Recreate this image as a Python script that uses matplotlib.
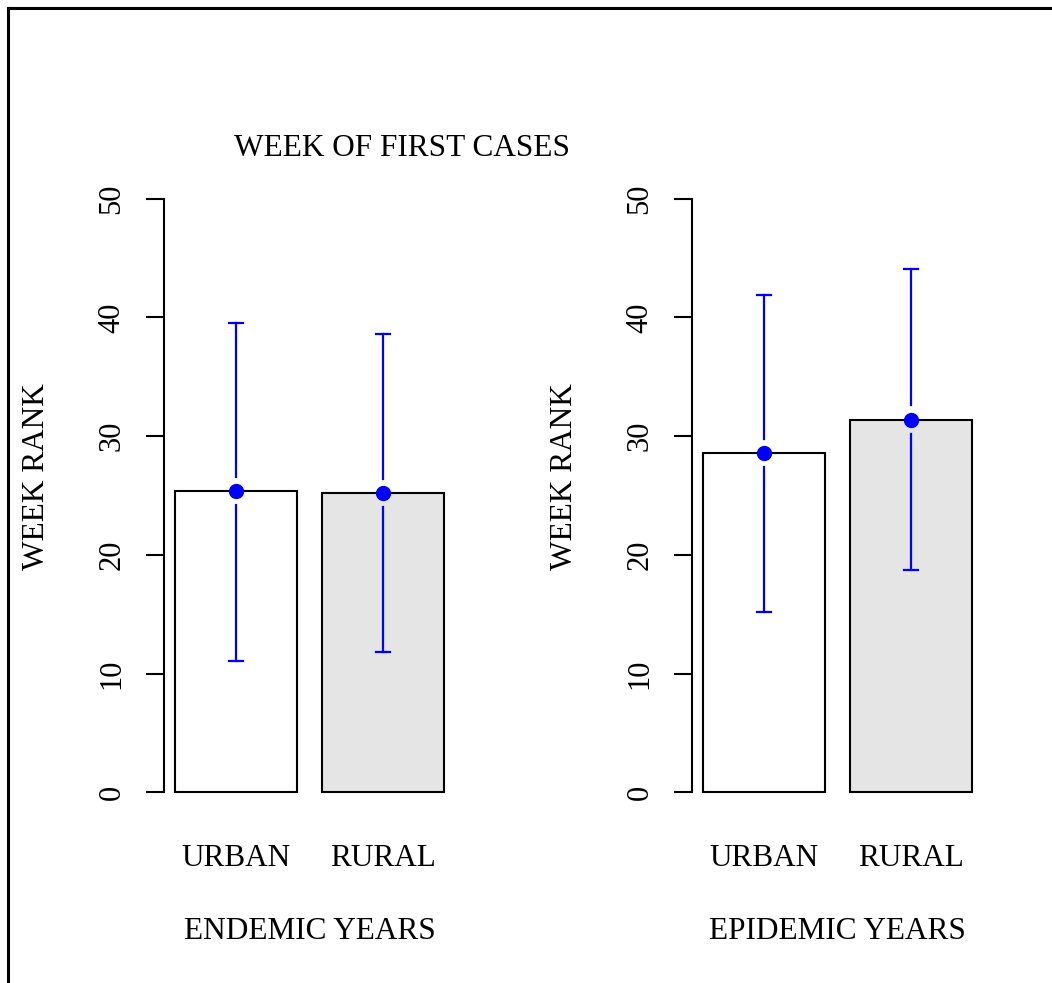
import numpy as np
import matplotlib
matplotlib.use("Agg")
import matplotlib.pyplot as plt
from matplotlib.lines import Line2D

plt.rcParams['font.family'] = ['Liberation Serif', 'DejaVu Serif']

# data
categories = ['URBAN', 'RURAL']
panels = ['ENDEMIC YEARS', 'EPIDEMIC YEARS']
means = [[25.4, 25.2], [28.6, 31.4]]
upper = [[39.5, 38.6], [41.9, 44.1]]
lower = [[11.1, 11.8], [15.2, 18.7]]
yticks = [0, 10, 20, 30, 40, 50]
bar_colors = ['white', '#E5E5E5']

fig = plt.figure(figsize=(10.52, 9.83), dpi=100)

# R barplot geometry: width 1, space 0.2
centers = np.array([0.7, 1.9])
ax_lefts = [164 / 1052, 692 / 1052]
gap = 1.2  # gap between point and error bar line, data units
fs = 22.5

for i in range(2):
    ax = fig.add_axes([ax_lefts[i], 0.1699, 0.2766, 0.652])
    ax.bar(centers, means[i], width=1.0, color=bar_colors,
           edgecolor='black', linewidth=1.5, zorder=1)
    for j in range(2):
        m = means[i][j]
        ax.plot([centers[j], centers[j]], [m + gap, upper[i][j]],
                color='blue', lw=1.6, zorder=3)
        ax.plot([centers[j], centers[j]], [lower[i][j], m - gap],
                color='blue', lw=1.6, zorder=3)
        ax.plot([centers[j] - 0.055, centers[j] + 0.055],
                [upper[i][j]] * 2, color='blue', lw=1.6, zorder=3)
        ax.plot([centers[j] - 0.055, centers[j] + 0.055],
                [lower[i][j]] * 2, color='blue', lw=1.6, zorder=3)
        ax.plot(centers[j], m, 'o', color='blue', ms=10, zorder=4)

    ax.set_xlim(0.112, 2.488)
    ax.set_ylim(-2, 52)
    for s in ['top', 'right', 'bottom']:
        ax.spines[s].set_visible(False)
    ax.spines['left'].set_bounds(0, 50)
    ax.spines['left'].set_linewidth(1.5)

    ax.set_yticks(yticks)
    ax.set_yticklabels([str(t) for t in yticks], rotation=90, va='center',
                       fontsize=22)
    ax.tick_params(axis='y', direction='out', length=13, width=1.5, pad=14)

    ax.set_xticks(centers)
    ax.set_xticklabels(categories, fontsize=fs)
    ax.tick_params(axis='x', length=0, pad=20)
    ax.set_xlabel(panels[i], fontsize=fs, labelpad=32)
    ax.set_ylabel('WEEK RANK', fontsize=fs)
    ax.yaxis.set_label_coords(-0.39, 0.53)

fig.text(402 / 1052, 1 - 148 / 983, 'WEEK OF FIRST CASES', fontsize=fs,
         ha='center', va='center')

# frame lines at left and top of the device
fig.add_artist(Line2D([8 / 1052, 8 / 1052], [0, 1 - 8 / 983],
                      transform=fig.transFigure, color='black', lw=2.2))
fig.add_artist(Line2D([8 / 1052, 1], [1 - 8 / 983, 1 - 8 / 983],
                      transform=fig.transFigure, color='black', lw=2.2))

fig.savefig('out.png', dpi=100, facecolor='white')
